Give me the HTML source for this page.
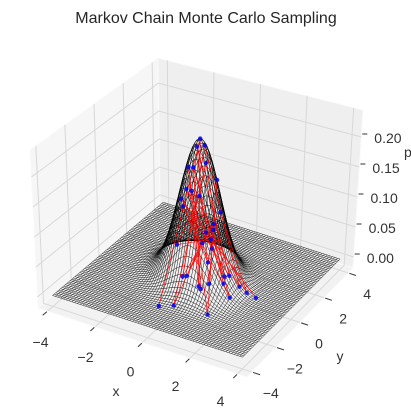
<!DOCTYPE html>
<html><head><meta charset="utf-8"><style>
html,body{margin:0;padding:0;background:#fff;}
svg{display:block;font-family:"Liberation Sans",sans-serif;}
</style></head><body>
<svg id="chart" width="411" height="419" viewBox="0 0 411 419" xmlns="http://www.w3.org/2000/svg">
<text x="206" y="23" text-anchor="middle" font-size="16" fill="#262626">Markov Chain Monte Carlo Sampling</text>
<g id="panes"></g>
<g id="grid"></g>
<g id="mesh"></g>
<g id="chain"></g>
<g id="dots"></g>
<g id="ticks"></g>
<text x="116" y="396" text-anchor="middle" font-size="14" fill="#333">x</text>
<text x="340" y="361" text-anchor="middle" font-size="14" fill="#333">y</text>
<text x="404" y="157" font-size="14" fill="#333">p</text>
</svg>
<script>
const xTicks = [-4, -2, 0, 2, 4];
const yTicks = [-4, -2, 0, 2, 4];
const zTicks = [0, 0.05, 0.10, 0.15, 0.20];
const zTickLabels = ["0.00", "0.05", "0.10", "0.15", "0.20"];
const meanXY = [0, 0];
const covXY = [0.7, -0.15, 0.7];
const sampleX = [-0.31, 0.00, 0.86, -0.26, 1.56, 0.51, 1.18, 0.00, 1.61, -0.46, 2.54, 0.76, 0.20, 0.40, 1.52, 1.02, -0.21, 2.18, 0.94, 0.17, 0.22, 1.92, 0.94, -0.34, 0.38, 1.57, 0.94, 0.06, 0.96, -0.55, 1.90, -0.28, 0.99, 0.93, 0.33, 0.71];
const sampleY = [-2.57, 0.00, -1.62, -0.40, -2.19, 0.37, -1.39, -0.23, -0.58, -0.60, -0.15, -0.90, -2.35, -0.28, -0.81, -0.89, -0.64, -0.23, -0.12, -1.60, -0.06, -0.34, -0.83, -1.12, -0.72, -0.97, -0.68, -0.72, -1.63, 0.48, -1.07, -0.77, -1.14, -0.59, -1.58, -1.06];

const NS = "http://www.w3.org/2000/svg";
const X0=-4.4, X1=4.4, Y0=-4.4, Y1=4.4, Z0=-0.0183, Z1=0.245;
const B00=[38,308], B10=[247,377], B11=[353,268], B01=[160,205];
const T00=[30,150], T10=[250,207], T11=[363,110], T01=[158,58];
function bil(a,b,c,d,u,v){
  return [a[0]*(1-u)*(1-v)+b[0]*u*(1-v)+c[0]*u*v+d[0]*(1-u)*v,
          a[1]*(1-u)*(1-v)+b[1]*u*(1-v)+c[1]*u*v+d[1]*(1-u)*v];
}
function P(x,y,z){
  const u=(x-X0)/(X1-X0), v=(y-Y0)/(Y1-Y0), w=(z-Z0)/(Z1-Z0);
  const b=bil(B00,B10,B11,B01,u,v), t=bil(T00,T10,T11,T01,u,v);
  return [b[0]+(t[0]-b[0])*w, b[1]+(t[1]-b[1])*w];
}
function dens(x,y){
  const a=covXY[0], c=covXY[1], d=covXY[2];
  const det=a*d-c*c;
  const dx=x-meanXY[0], dy=y-meanXY[1];
  const q=(d*dx*dx-2*c*dx*dy+a*dy*dy)/det;
  return Math.exp(-0.5*q)/(2*Math.PI*Math.sqrt(det));
}
function mk(tag,parent,attrs){const e=document.createElementNS(NS,tag);for(const k in attrs)e.setAttribute(k,attrs[k]);parent.appendChild(e);return e;}
function pts(arr){return arr.map(p=>p[0].toFixed(2)+","+p[1].toFixed(2)).join(" ");}

const panes=document.getElementById('panes');
let e;
e=mk('polygon',panes,{points:pts([P(X0,Y0,Z0),P(X1,Y0,Z0),P(X1,Y1,Z0),P(X0,Y1,Z0)]),fill:'#f2f2f2',stroke:'#fafafa'});


e=mk('polygon',panes,{points:pts([P(X0,Y0,Z0),P(X0,Y1,Z0),P(X0,Y1,Z1),P(X0,Y0,Z1)]),fill:'#f6f6f6',stroke:'#fafafa'});


e=mk('polygon',panes,{points:pts([P(X0,Y1,Z0),P(X1,Y1,Z0),P(X1,Y1,Z1),P(X0,Y1,Z1)]),fill:'#efefef',stroke:'#fafafa'});



const grid=document.getElementById('grid');
const gs={stroke:'#d8d8d8','stroke-width':1,fill:'none'};
xTicks.forEach(x=>{
  e=mk('polyline',grid,Object.assign({points:pts([P(x,Y0,Z0),P(x,Y1,Z0),P(x,Y1,Z1)])},gs));
  
  
});
yTicks.forEach(y=>{
  e=mk('polyline',grid,Object.assign({points:pts([P(X1,y,Z0),P(X0,y,Z0),P(X0,y,Z1)])},gs));
  
  
});
zTicks.forEach(z=>{
  e=mk('polyline',grid,Object.assign({points:pts([P(X0,Y0,z),P(X0,Y1,z),P(X1,Y1,z)])},gs));
  
  
});

const mesh=document.getElementById('mesh');
const N=70;
const gx=[];for(let i=0;i<N;i++)gx.push(-4+8*i/(N-1));
for(let i=0;i<N;i++){
  const row=gx.map(x=>P(x,gx[i],dens(x,gx[i])));
  e=mk('polyline',mesh,{points:pts(row),stroke:'#000','stroke-width':0.5,fill:'none','stroke-opacity':0.9});
  
  
  const col=gx.map(y=>P(gx[i],y,dens(gx[i],y)));
  e=mk('polyline',mesh,{points:pts(col),stroke:'#000','stroke-width':0.5,fill:'none','stroke-opacity':0.9});
  
  
}

const chain=document.getElementById('chain');
const sp=sampleX.map((x,i)=>P(x,sampleY[i],dens(x,sampleY[i])));
e=mk('polyline',chain,{points:pts(sp),stroke:'#ff0000','stroke-width':0.8,fill:'none','stroke-opacity':0.85});


const dots=document.getElementById('dots');
sp.forEach(p=>{
  e=mk('circle',dots,{cx:p[0].toFixed(2),cy:p[1].toFixed(2),r:2.2,fill:'#0000ee','fill-opacity':0.85});
  
  
});

const ticks=document.getElementById('ticks');
xTicks.forEach((x,i)=>{
  const a=P(x,Y0-0.05,Z0), b=P(x,Y0-0.35,Z0);
  e=mk('line',ticks,{x1:a[0],y1:a[1],x2:b[0],y2:b[1],stroke:'#333','stroke-width':1});
  
  
  const t=(x+4)/8, q=P(x,Y0,Z0);
  e=mk('text',ticks,{x:(q[0]-7-10*t).toFixed(1),y:(q[1]+31-4*t+5).toFixed(1),'text-anchor':'middle','font-size':14,fill:'#333'});
  e.textContent=String(x).replace('-','\u2212');
  
  
});
yTicks.forEach(y=>{
  const a=P(X1+0.05,y,Z0), b=P(X1+0.35,y,Z0);
  e=mk('line',ticks,{x1:a[0],y1:a[1],x2:b[0],y2:b[1],stroke:'#333','stroke-width':1});
  
  
  const q=P(X1,y,Z0);
  e=mk('text',ticks,{x:(q[0]+19).toFixed(1),y:(q[1]+21+5).toFixed(1),'text-anchor':'middle','font-size':14,fill:'#333'});
  e.textContent=String(y).replace('-','\u2212');
  
  
});
zTicks.forEach((z,i)=>{
  const q=P(X1,Y1,z);
  e=mk('line',ticks,{x1:q[0]+1,y1:q[1]-3,x2:q[0]+6,y2:q[1]-3,stroke:'#333','stroke-width':1});
  
  
  e=mk('text',ticks,{x:(q[0]+13).toFixed(1),y:(q[1]+6).toFixed(1),'font-size':14,fill:'#333'});
  e.textContent=zTickLabels[i];
  
  
});
</script>
</body></html>
